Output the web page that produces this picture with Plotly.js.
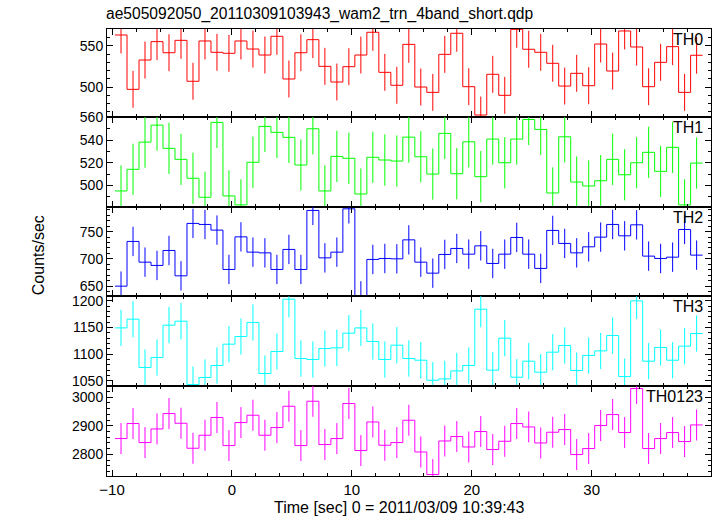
<!DOCTYPE html>
<html>
<head>
<meta charset="utf-8">
<script src="https://cdn.plot.ly/plotly-3.0.1.min.js"></script>
<style>html,body{margin:0;padding:0;background:#fff}#chart{width:717px;height:516px}</style>
</head>
<body>
<div id="chart"></div>
<script>
// Bin centres (s), bin width 1 s
var binCenters = [-9.25,-8.25,-7.25,-6.25,-5.25,-4.25,-3.25,-2.25,-1.25,-0.25,0.75,1.75,2.75,3.75,4.75,5.75,6.75,7.75,8.75,9.75,10.75,11.75,12.75,13.75,14.75,15.75,16.75,17.75,18.75,19.75,20.75,21.75,22.75,23.75,24.75,25.75,26.75,27.75,28.75,29.75,30.75,31.75,32.75,33.75,34.75,35.75,36.75,37.75,38.75];
var binWidth = 1.0;

var panelNames = ["TH0","TH1","TH2","TH3","TH0123"];

var th0 = [563.4,497.2,532.9,555.3,541.8,556.9,507.0,556.1,542.3,541.1,556.1,546.3,539.0,561.8,509.8,541.8,557.7,525.2,506.1,524.8,539.0,566.7,517.9,502.1,552.0,500.0,493.5,539.8,565.5,500.4,465.9,515.5,489.9,570.3,546.0,542.3,528.9,501.2,516.7,501.6,552.4,519.5,568.3,548.8,500.4,530.1,549.2,493.5,538.7];
var th1 = [495.1,514.2,538.2,553.2,532.7,523.0,506.3,489.5,555.6,490.7,482.8,520.4,552.1,546.8,542.4,518.0,550.0,495.1,525.6,523.9,492.4,524.8,522.4,521.5,542.6,525.3,510.0,545.9,510.3,538.5,507.7,540.9,520.0,540.9,558.2,549.4,493.3,542.9,503.0,499.5,504.1,523.0,509.4,520.0,529.2,512.4,533.6,482.8,519.7];
var th2 = [649.8,732.0,693.9,687.9,715.4,668.8,765.1,763.2,752.8,680.5,740.4,712.3,711.0,680.5,717.3,680.5,789.0,701.8,712.3,791.9,632.0,698.9,700.7,700.0,734.9,693.9,673.7,708.1,719.1,708.6,723.9,691.5,708.6,739.3,708.6,682.4,752.2,728.3,711.0,722.1,739.9,763.2,742.3,762.5,705.0,700.7,703.1,754.0,706.8];
var th3 = [1149.3,1165.7,1075.0,1093.8,1154.4,1161.9,1043.0,1056.3,1078.8,1118.8,1133.2,1159.5,1063.8,1105.0,1203.2,1091.9,1090.0,1110.7,1111.9,1139.4,1149.3,1123.8,1090.0,1116.9,1091.9,1088.7,1051.2,1053.7,1068.7,1078.8,1184.4,1070.0,1130.0,1056.8,1086.9,1066.2,1103.8,1116.3,1069.4,1097.6,1106.2,1135.1,1058.0,1200.0,1086.9,1112.6,1088.7,1115.0,1138.8];
var th0123 = [2855.4,2907.7,2841.5,2888.9,2942.5,2908.7,2821.6,2866.9,2928.6,2831.0,2911.1,2936.6,2866.9,2893.7,2967.9,2831.0,2985.4,2834.5,2855.4,2977.4,2813.6,2913.2,2832.1,2841.5,2919.2,2808.7,2730.0,2847.0,2862.4,2826.1,2879.8,2817.1,2846.0,2907.7,2895.8,2840.1,2877.4,2886.8,2799.7,2820.6,2900.7,2939.0,2876.3,3029.6,2820.6,2855.4,2876.3,2844.9,2902.8];

// 1-sigma error (counts/sec), per panel
var errTH0 = 22.5, errTH1 = 22.6, errTH2 = 27, errTH3 = 34, errTH0123 = 54;

var series = [th0, th1, th2, th3, th0123];
var errors = [errTH0, errTH1, errTH2, errTH3, errTH0123];
var colors = ["#ff0000","#00ff00","#0000ff","#00ffff","#ff00ff"];

// Layout geometry
var yRanges = [[463.8,570.7],[481.1,560.6],[631.4,795.6],[1040.5,1208.8],[2725,3038.7]];
var yMajor = [50,20,50,50,100];
var yMinor = [10,10,10,10,20];
var domains = [[0.8037,1],[0.6022,0.8037],[0.4023,0.6022],[0.2015,0.4023],[0,0.2015]];
var xRange = [-10.42,39.95];

var FONT = "Liberation Sans, Arial, Helvetica, sans-serif";

var traces = [];
var layout = {
  width: 717, height: 516,
  margin: {l:107, r:6, t:29, b:40, pad:0},
  paper_bgcolor: "#ffffff", plot_bgcolor: "#ffffff",
  showlegend: false,
  font: {family: FONT, size: 14, color: "#000"},
  title: {text: "ae505092050_20110309103943_wam2_trn_4band_short.qdp",
          font: {family: FONT, size: 15.6, color: "#000"},
          x: 106/717, xanchor: "left", xref: "container",
          y: 1 - 14/516, yanchor: "middle", yref: "container"},
  annotations: []
};

for (var i = 0; i < 5; i++) {
  var n = i + 1;
  var xa = n === 1 ? "x" : "x" + n;
  var ya = n === 1 ? "y" : "y" + n;
  var vals = series[i];
  // step outline through bin edges
  var ex = [], ey = [];
  for (var k = 0; k < binCenters.length; k++) {
    ex.push(binCenters[k] - binWidth / 2);
    ey.push(vals[k]);
  }
  ex.push(binCenters[binCenters.length - 1] + binWidth / 2);
  ey.push(vals[vals.length - 1]);
  traces.push({x: ex, y: ey, xaxis: xa, yaxis: ya, type: "scatter", mode: "lines",
               line: {shape: "hv", color: colors[i], width: 1}, hoverinfo: "skip"});
  traces.push({x: binCenters, y: vals, xaxis: xa, yaxis: ya, type: "scatter", mode: "markers",
               marker: {size: 1, opacity: 0, color: colors[i]},
               error_y: {type: "constant", value: errors[i], visible: true, width: 0, thickness: 1, color: colors[i]},
               hoverinfo: "skip"});

  var xKey = n === 1 ? "xaxis" : "xaxis" + n;
  var yKey = n === 1 ? "yaxis" : "yaxis" + n;
  layout[xKey] = {
    domain: [0, 1], anchor: ya, range: xRange,
    showline: true, linecolor: "#000", linewidth: 1, mirror: "allticks",
    ticks: "inside", ticklen: 6, tickwidth: 1, tickcolor: "#000",
    tick0: 0, dtick: 10, showgrid: false, zeroline: false,
    minor: {dtick: 2, tick0: 0, ticks: "inside", ticklen: 3, tickwidth: 1, tickcolor: "#000", showgrid: false},
    showticklabels: n === 5,
    tickfont: {family: FONT, size: 15, color: "#000"}
  };
  if (n !== 1) layout[xKey].matches = "x";
  layout[yKey] = {
    domain: domains[i], anchor: xa, range: yRanges[i],
    showline: true, linecolor: "#000", linewidth: 1, mirror: "allticks",
    ticks: "inside", ticklen: 6, tickwidth: 1, tickcolor: "#000",
    tick0: 0, dtick: yMajor[i], showgrid: false, zeroline: false,
    minor: {dtick: yMinor[i], tick0: 0, ticks: "inside", ticklen: 3, tickwidth: 1, tickcolor: "#000", showgrid: false},
    tickfont: {family: FONT, size: 14, color: "#000"}
  };
  layout.annotations.push({
    text: panelNames[i], xref: "paper", x: 0.990, xanchor: "right",
    yref: ya + " domain", y: 1, yshift: -10.5, yanchor: "middle",
    showarrow: false, font: {family: FONT, size: 16, color: "#000"}
  });
}

layout.annotations.push({
  text: "Counts/sec", xref: "paper", x: (38 - 107) / 604.3, xanchor: "center",
  yref: "paper", y: 0.494, yanchor: "middle", textangle: -90,
  showarrow: false, font: {family: FONT, size: 16, color: "#000"}
});
layout.annotations.push({
  text: "Time [sec] 0 = 2011/03/09 10:39:43", xref: "paper", x: (399 - 106.7) / 604.3, xanchor: "center",
  yref: "paper", y: -(507 - 475.7) / 446.7, yanchor: "middle",
  showarrow: false, font: {family: FONT, size: 16, color: "#000"}
});

Plotly.newPlot("chart", traces, layout, {staticPlot: true, displayModeBar: false});
</script>
</body>
</html>
